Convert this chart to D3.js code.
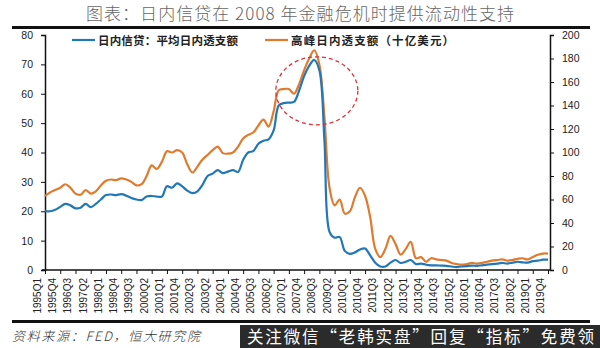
<!DOCTYPE html>
<html><head><meta charset="utf-8">
<script src="https://cdn.jsdelivr.net/npm/d3@7"></script>
<style>body{margin:0;background:#fff}svg{display:block}</style>
</head><body>
<script>
const quarters = [];
for (let y = 1995; y <= 2019; y++) for (let q = 1; q <= 4; q++) quarters.push(y + "Q" + q);

// 平均日内透支额 (left axis)
const avgOverdraft = [20,20,20.5,21.5,22.5,22,21,21.2,22.5,21.4,22.5,24,25.5,25.7,25.5,25.8,25.3,24.5,24,23.8,
  25,25.2,25,25,28.5,28,29.5,28.5,27,26.2,26.8,29,32,32.8,34,33,33.5,34,33.4,37.5,
  40,40.5,43,44,44.5,47.5,56,56.8,57,57.2,61,66,69.5,71.5,68,44,13,11,11.2,6.5,
  5.5,6,7,7.3,5,2.5,1.2,1.2,2.5,3.4,2.4,2.8,3.4,2,2.2,1.8,1.6,1.6,1.5,1.4,
  1.2,1,1.2,1.3,1.5,1.4,1.6,1.8,2,2.2,2.4,2.2,2.5,2.8,2.6,2.5,3,3.2,3.5,3.5];
// 高峰日内透支额（十亿美元）(right axis)
const peakOverdraft = [63,66,68,70,73,70,65,64,68,65,67,72,76,77,76.5,78,77,75,72,73,
  80,89,86,92,101,100,102,100,90,83,88,94,98,102,105,99.5,99,100,105,112,
  115,117,123,128,122,135,153,154,154,150,158,170,180,187,175,130,70,55,60,48,
  50,62,70,63,45,18,11,18,29,22,13,18,24,10,11,7,10,9,8.5,8,
  6,5,4.5,5,6,5.5,6,7,8,8.5,9,8,8.5,9.5,10,9,11,13,14,14];
const leftTicks = [0,10,20,30,40,50,60,70,80];
const rightTicks = [0,20,40,60,80,100,120,140,160,180,200];
const seriesNames = ["日内信贷：平均日内透支额", "高峰日内透支额（十亿美元）"];
const titleText = "图表：日内信贷在 2008 年金融危机时提供流动性支持";
const sourceText = "资料来源：FED，恒大研究院";
const bannerText = "关注微信“老韩实盘”回复“指标”免费领";

const W = 600, H = 348;
const svg = d3.select("body").append("svg").attr("width", W).attr("height", H);
const cjk = "'Noto Sans CJK SC', 'Noto Sans', sans-serif";

const x = d3.scalePoint().domain(quarters).range([45, 548]);
const yL = d3.scaleLinear().domain([0, 80]).range([270, 35]);
const yR = d3.scaleLinear().domain([0, 200]).range([270, 35]);

// title
svg.append("text").attr("x", 86).attr("y", 20)
  .attr("font-family", cjk).attr("font-weight", 300).attr("font-size", 17)
  .attr("textLength", 428).attr("lengthAdjust", "spacing")
  .attr("fill", "#666").text(titleText);
svg.append("rect").attr("x", 12).attr("y", 26).attr("width", 578).attr("height", 3).attr("fill", "#111");

// axes
const axL = svg.append("g").attr("transform", "translate(45,0)")
  .call(d3.axisLeft(yL).tickValues(leftTicks).tickSize(4).tickPadding(8));
const axR = svg.append("g").attr("transform", "translate(550,0)")
  .call(d3.axisRight(yR).tickValues(rightTicks).tickSize(4).tickPadding(8));
const tickQs = quarters.filter((d, i) => i % 3 === 0);
const axX = svg.append("g").attr("transform", "translate(0,270)")
  .call(d3.axisBottom(x).tickValues(tickQs).tickSize(4).tickPadding(3));
axX.select(".domain").attr("d", "M42,0H550");
axX.selectAll("text").attr("transform", "rotate(-90)").attr("text-anchor", "end")
  .attr("dx", "-0.3em").attr("dy", "-0.45em").attr("y", 0).attr("x", -5);
[axL, axR, axX].forEach(a => {
  a.selectAll("text").attr("font-family", "'Liberation Sans', Arial, sans-serif").attr("font-size", 10.5).attr("fill", "#222");
  a.select(".domain").attr("stroke", "#111").attr("stroke-width", 1.5);
  a.selectAll(".tick line").attr("stroke", "#111");
});
axX.selectAll("text").attr("font-size", 10);

// lines
const curve = d3.curveCatmullRom.alpha(0.5);
const lineL = d3.line().x((d, i) => x(quarters[i])).y(d => yL(d)).curve(curve);
const lineR = d3.line().x((d, i) => x(quarters[i])).y(d => yR(d)).curve(curve);
svg.append("path").datum(peakOverdraft).attr("d", lineR).attr("fill", "none")
  .attr("stroke", "#e07b2e").attr("stroke-width", 2.2);
svg.append("path").datum(avgOverdraft).attr("d", lineL).attr("fill", "none")
  .attr("stroke", "#2277b8").attr("stroke-width", 2.2);

// dashed circle annotation around the 2008 peak
svg.append("ellipse").attr("cx", (x("2008Q2") + x("2008Q3")) / 2).attr("cy", yL(61))
  .attr("rx", 41).attr("ry", 34).attr("fill", "none")
  .attr("stroke", "#e0303a").attr("stroke-width", 1.3).attr("stroke-dasharray", "4,3");

// legend
const lg = svg.append("g").attr("font-family", cjk).attr("font-size", 11.5).attr("font-weight", 700).attr("fill", "#222");
[[72, "#2277b8", seriesNames[0], 140], [265, "#e07b2e", seriesNames[1], 163]].forEach(([lx, c, t, tl]) => {
  lg.append("line").attr("x1", lx).attr("x2", lx + 23).attr("y1", 40).attr("y2", 40).attr("stroke", c).attr("stroke-width", 2.2);
  lg.append("text").attr("x", lx + 26).attr("y", 44.5).attr("textLength", tl).attr("lengthAdjust", "spacing").text(t);
});

// footer
svg.append("rect").attr("x", 12).attr("y", 320).attr("width", 578).attr("height", 3).attr("fill", "#111");
svg.append("text").attr("x", 12).attr("y", 341).attr("font-family", cjk).attr("font-size", 13)
  .attr("font-style", "italic").attr("fill", "#333").attr("font-weight", 300)
  .attr("textLength", 188).attr("lengthAdjust", "spacing").text(sourceText);
svg.append("rect").attr("x", 240).attr("y", 325).attr("width", 360).attr("height", 23).attr("fill", "#2b2b2b");
svg.append("text").attr("x", 247).attr("y", 343).attr("font-family", cjk).attr("font-size", 16.5)
  .attr("textLength", 347).attr("lengthAdjust", "spacing")
  .attr("fill", "#fff").text(bannerText);
</script>
</body></html>
